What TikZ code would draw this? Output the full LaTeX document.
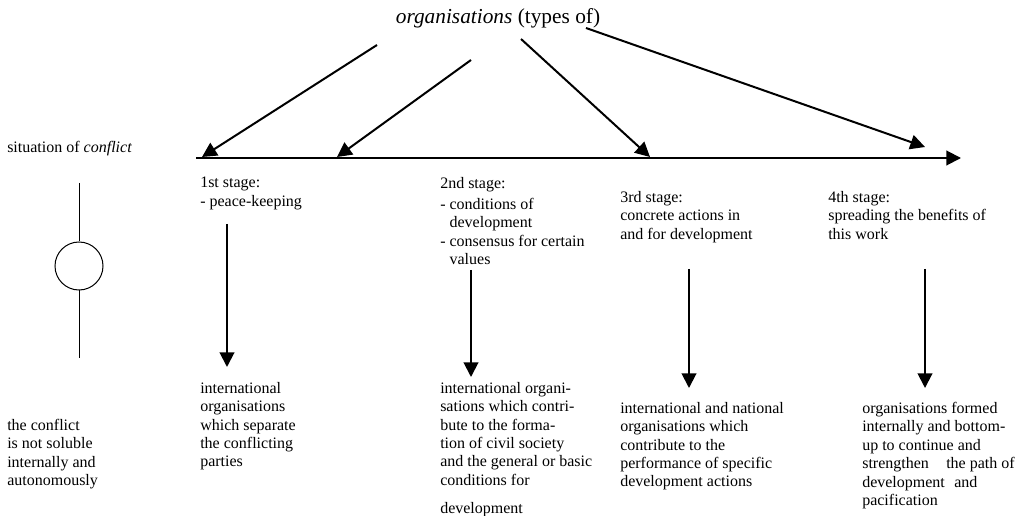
\documentclass[tikz,border=0pt]{standalone}
\usepackage{fontspec}
\setmainfont{Liberation Serif}
\usetikzlibrary{arrows.meta}
\tikzset{x=0.75pt,y=-0.75pt,
  txt/.style={anchor=north west,inner sep=0pt,align=left,font=\fontsize{12}{13.8}\selectfont},
  arr/.style={line width=1.5pt,-{Triangle[length=11pt,width=11pt]}},
  thin line/.style={line width=0.75pt}}

\begin{document}
\begin{tikzpicture}
	\useasboundingbox (0,0) rectangle (1023,516);
	\node[font=\fontsize{16}{18}\selectfont] (org) at (498,18) {\textit{organisations} (types of)};

	% conflict on the left
	\node[txt] (sit) at (7,141) {situation of \textit{conflict}};
	\node[draw,circle,thin line,minimum size=36pt,inner sep=0pt] (conf) at (79,266) {};
	\coordinate (ctop) at (79,183);
	\coordinate (cbot) at (79,358);
	\draw[thin line] (ctop) -- (conf.north) (conf.south) -- (cbot);
	\node[txt] (notsol) at (7,419) {the conflict\\is not soluble\\internally and\\autonomously};

	% time line
	\coordinate (t0) at (196,158);
	\coordinate (t1) at (961,158);
	\draw[arr] (t0) -- (t1);

	% organisations pointing to the stages
	\coordinate (a1) at (377,45);  \coordinate (b1) at (202,157);
	\coordinate (a2) at (471,60);  \coordinate (b2) at (337,157);
	\coordinate (a3) at (521,39);  \coordinate (b3) at (650,157);
	\coordinate (a4) at (586,28);  \coordinate (b4) at (925,147);
	\foreach \i in {1,...,4}
		\draw[arr] (a\i) -- (b\i);

	% stages
	\node[txt] (s1) at (200,177) {1st stage:\\- peace-keeping};
	\node[txt] (s2) at (440,177) {2nd stage:\\[2pt]- conditions of\\\hphantom{- }development\\- consensus for certain\\\hphantom{- }values};
	\node[txt] (s3) at (620,191) {3rd stage:\\concrete actions in\\and for development};
	\node[txt] (s4) at (828,191) {4th stage:\\spreading the benefits of\\this work};

	% kinds of organisations
	\node[txt] (r1) at (200,382) {international\\organisations\\which separate\\the conflicting\\parties};
	\node[txt] (r2) at (440,382) {international organi-\\sations which contri-\\bute to the forma-\\tion of civil society\\and the general or basic\\conditions for\\[7pt]development};
	\node[txt] (r3) at (620,402) {international and national\\organisations which\\contribute to the\\performance of specific\\development actions};
	\node[txt] (r4) at (862,402) {organisations formed\\internally and bottom-\\up to continue and\\strengthen\hspace{10pt} the path of\\development\hspace{4pt} and\\pacification};

	\coordinate (u1) at (227,224); \coordinate (d1) at (227,367);
	\coordinate (u2) at (471,270); \coordinate (d2) at (471,377);
	\coordinate (u3) at (689,269); \coordinate (d3) at (689,388);
	\coordinate (u4) at (925,269); \coordinate (d4) at (925,388);
	\foreach \i in {1,...,4}
		\draw[arr] (u\i) -- (d\i);
\end{tikzpicture}
\end{document}
